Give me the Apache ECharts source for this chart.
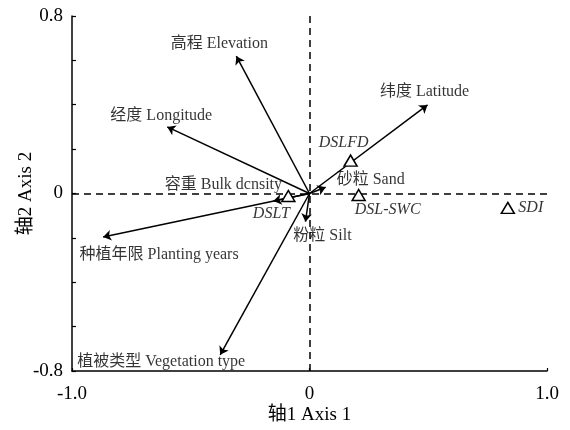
<!DOCTYPE html>
<html><head><meta charset="utf-8">
<script src="https://cdn.jsdelivr.net/npm/echarts@6/dist/echarts.min.js"></script>
<style>html,body{margin:0;padding:0;background:#fff}#c{width:570px;height:430px}</style>
</head><body><div id="c"></div>
<script>
// Environmental variable arrows (axis1, axis2)
var envNames = ['高程 Elevation','经度 Longitude','纬度 Latitude','容重 Bulk dcnsity','种植年限 Planting years','植被类型 Vegetation type','粉粒 Silt','砂粒 Sand'];
var envX = [-0.308,-0.599,0.497,-0.152,-0.869,-0.376,-0.017,0.068];
var envY = [0.619,0.300,0.399,-0.034,-0.196,-0.727,-0.127,0.028];
// Response variables (triangles)
var spNames = ['DSLFD','DSL-SWC','SDI','DSLT'];
var spX = [0.173,0.207,0.835,-0.089];
var spY = [0.148,-0.007,-0.065,-0.011];
// Tick labels
var yTickLabels = {'0.8':'0.8','0':'0','-0.8':'-0.8'};
var xTickLabels = {'-1':'-1.0','0':'0','1':'1.0'};

// label offsets (pixels) — styling only
var envOffsets = [[-17,-12],[-6,-11],[-3,-13],[-50,-16],[56,18],[-59,7],[17,14],[45,-7]];
var spOffsets = [[-7,-18],[29,15],[23,0],[-17,18]];

var FONT = '"Times New Roman","Liberation Serif","Noto Sans CJK SC",serif';

var arrowData = envX.map(function(x,i){return {coords:[[0,0],[x,envY[i]]]};});
var envLabelData = envX.map(function(x,i){
  return {value:[x,envY[i]], name:envNames[i], label:{offset:envOffsets[i]}};
});
var spData = spX.map(function(x,i){
  return {value:[x,spY[i]], name:spNames[i]};
});
var spLabelData = spX.map(function(x,i){
  return {value:[x,spY[i]], name:spNames[i], label:{offset:spOffsets[i]}};
});

function key(v){ var r=Math.round(v*10)/10; return String(r===0?0:r); }

var chart = echarts.init(document.getElementById('c'));
chart.setOption({
  animation:false,
  backgroundColor:'#fff',
  grid:{left:72,right:23,top:16,bottom:59,containLabel:false,outerBoundsMode:'none'},
  xAxis:{
    type:'value',min:-1,max:1,interval:1,
    name:'轴1 Axis 1',nameLocation:'middle',nameGap:35,nameMoveOverlap:false,
    nameTextStyle:{fontFamily:FONT,fontSize:19,color:'#000'},
    axisLine:{onZero:false,lineStyle:{color:'#000',width:1.5}},
    axisTick:{inside:true,length:3,lineStyle:{color:'#000',width:1.2}},
    axisLabel:{fontFamily:FONT,fontSize:19,color:'#000',margin:14,
      formatter:function(v){return xTickLabels[key(v)]||'';}},
    splitLine:{show:false}
  },
  yAxis:{
    type:'value',min:-0.8,max:0.8,interval:0.2,
    name:'轴2 Axis 2',nameLocation:'middle',nameGap:36,nameRotate:90,nameMoveOverlap:false,
    nameTextStyle:{fontFamily:FONT,fontSize:19,color:'#000'},
    axisLine:{onZero:false,lineStyle:{color:'#000',width:1.5}},
    axisTick:{inside:true,length:4,lineStyle:{color:'#000',width:1.2}},
    axisLabel:{fontFamily:FONT,fontSize:19,color:'#000',margin:9,
      formatter:function(v){return yTickLabels[key(v)]||'';}},
    splitLine:{show:false}
  },
  series:[
    {
      type:'line',data:[],silent:true,
      markLine:{
        silent:true,symbol:['none','none'],
        label:{show:false},
        lineStyle:{color:'#000',type:[7,5],width:1.5},
        data:[{xAxis:0},{yAxis:0}]
      }
    },
    {
      type:'lines',coordinateSystem:'cartesian2d',
      symbol:['none','arrow'],symbolSize:[0,8],
      lineStyle:{color:'#000',width:1.5,opacity:1},
      data:arrowData,z:3
    },
    {
      type:'scatter',symbolSize:0,data:envLabelData,z:4,silent:true,
      label:{show:true,position:'inside',formatter:'{b}',
        fontFamily:FONT,fontSize:16,color:'#000'}
    },
    {
      type:'scatter',symbol:'triangle',symbolSize:[13,11],data:spData,z:5,
      itemStyle:{color:'#fff',borderColor:'#000',borderWidth:1.5,opacity:1}
    },
    {
      type:'scatter',symbolSize:0,data:spLabelData,z:6,silent:true,
      label:{show:true,position:'inside',formatter:'{b}',
        fontFamily:FONT,fontSize:16,fontStyle:'italic',color:'#000'}
    }
  ]
});
</script></body></html>
